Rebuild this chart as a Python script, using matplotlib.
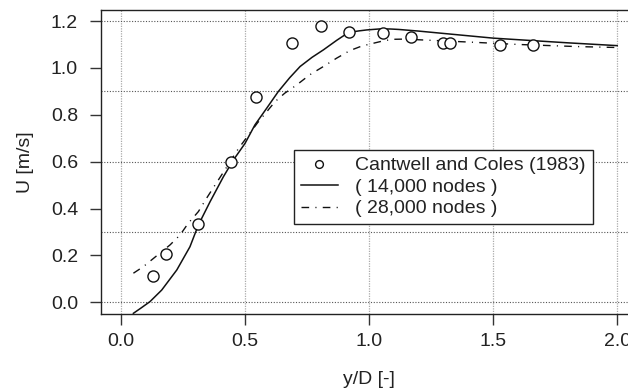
import matplotlib
matplotlib.use("Agg")
import matplotlib.pyplot as plt

plt.rcParams["font.family"] = ["Liberation Sans", "DejaVu Sans"]
plt.rcParams["font.size"] = 14

# Cantwell and Coles (1983) measurements
exp_x = [0.130, 0.181, 0.312, 0.442, 0.544, 0.688, 0.805, 0.921, 1.055,
         1.167, 1.300, 1.327, 1.528, 1.660]
exp_u = [0.112, 0.206, 0.333, 0.600, 0.875, 1.108, 1.179, 1.154, 1.148,
         1.130, 1.105, 1.105, 1.098, 1.098]

# simulation, 14,000 nodes
coarse_x = [0.05, 0.08, 0.117, 0.164, 0.225, 0.278, 0.312, 0.359, 0.413,
            0.453, 0.50, 0.54, 0.59, 0.634, 0.68, 0.722, 0.77, 0.816, 0.87,
            0.917, 0.96, 0.991, 1.04, 1.085, 1.12, 1.20, 1.35, 1.50, 1.65,
            1.80, 2.00]
coarse_u = [-0.047, -0.025, 0.003, 0.052, 0.138, 0.237, 0.330, 0.429, 0.536,
            0.607, 0.678, 0.757, 0.832, 0.899, 0.958, 1.006, 1.045, 1.077,
            1.118, 1.151, 1.158, 1.162, 1.166, 1.166, 1.164, 1.157, 1.142,
            1.127, 1.117, 1.107, 1.095]

# simulation, 28,000 nodes
fine_x = [0.05, 0.09, 0.198, 0.238, 0.271, 0.312, 0.345, 0.379, 0.419,
          0.473, 0.55, 0.621, 0.66, 0.708, 0.76, 0.816, 0.87, 0.923, 0.97,
          1.017, 1.06, 1.098, 1.15, 1.20, 1.407, 1.60, 1.838, 2.00]
fine_u = [0.124, 0.152, 0.245, 0.287, 0.337, 0.387, 0.444, 0.500, 0.565,
          0.655, 0.765, 0.856, 0.892, 0.927, 0.970, 1.006, 1.042, 1.074,
          1.093, 1.105, 1.116, 1.122, 1.123, 1.120, 1.110, 1.100, 1.091,
          1.087]

grid_x = [0.0, 0.5, 1.0, 1.5, 2.0]
grid_y = [0.0, 0.3, 0.6, 0.9, 1.2]
xticks = [0.0, 0.5, 1.0, 1.5, 2.0]
yticks = [0.0, 0.2, 0.4, 0.6, 0.8, 1.0, 1.2]

labels = ["Cantwell and Coles (1983)", "( 14,000 nodes )", "( 28,000 nodes )"]

fig = plt.figure(figsize=(6.28, 3.9), dpi=100)
ax = fig.add_axes([101 / 628, 76 / 390, 536 / 628, 304 / 390])

for gx in grid_x:
    ax.axvline(gx, color="#aaaaaa", lw=0.9, ls=(0, (1, 1)), zorder=0)
for gy in grid_y:
    ax.axhline(gy, color="#555555", lw=0.8, ls=(0, (1, 1.5)), zorder=0)

ax.plot(exp_x, exp_u, "o", ms=8, mfc="white", mec="#111111", mew=1.0,
        label=labels[0], zorder=3)
ax.plot(coarse_x, coarse_u, "-", color="#111111", lw=1.1, label=labels[1],
        zorder=2)
ax.plot(fine_x, fine_u, color="#111111", lw=1.0, ls=(0, (5.5, 4.5, 0.8, 4.5)),
        label=labels[2], zorder=2)

ax.set_xlim(-0.0806, 2.08)
ax.set_ylim(-0.05, 1.247)
ax.set_xticks(xticks)
ax.set_xticklabels(["0.0", "0.5", "1.0", "1.5", "2.0"])
ax.set_yticks(yticks)
ax.set_yticklabels(["0.0", "0.2", "0.4", "0.6", "0.8", "1.0", "1.2"])
ax.tick_params(axis="both", direction="out", length=8, width=1.0,
               colors="#333333", labelcolor="#222222", labelsize=14)
ax.tick_params(axis="x", pad=6)
ax.tick_params(axis="y", pad=8.5)

for side in ("left", "bottom", "top"):
    ax.spines[side].set_linewidth(1.0)
    ax.spines[side].set_color("#222222")
ax.spines["right"].set_visible(False)

leg = ax.legend(loc="upper left", bbox_to_anchor=(294 / 628, 1 - 150 / 390),
                bbox_transform=fig.transFigure, frameon=True, fancybox=False,
                framealpha=1, edgecolor="#222222", fontsize=14,
                markerscale=0.7, handlelength=1.9, handletextpad=0.9,
                borderpad=0.35, labelspacing=0.2, borderaxespad=0)
leg.get_frame().set_linewidth(1.0)
for t in leg.get_texts():
    t.set_color("#222222")

fig.text(25 / 628, 1 - 162 / 390, "U [m/s]", rotation=90, ha="center",
         va="center", color="#222222", fontsize=14)
fig.text(369 / 628, 1 - 379 / 390, "y/D [-]", ha="center", va="center",
         color="#222222", fontsize=14)

fig.savefig("out.png", dpi=100)
